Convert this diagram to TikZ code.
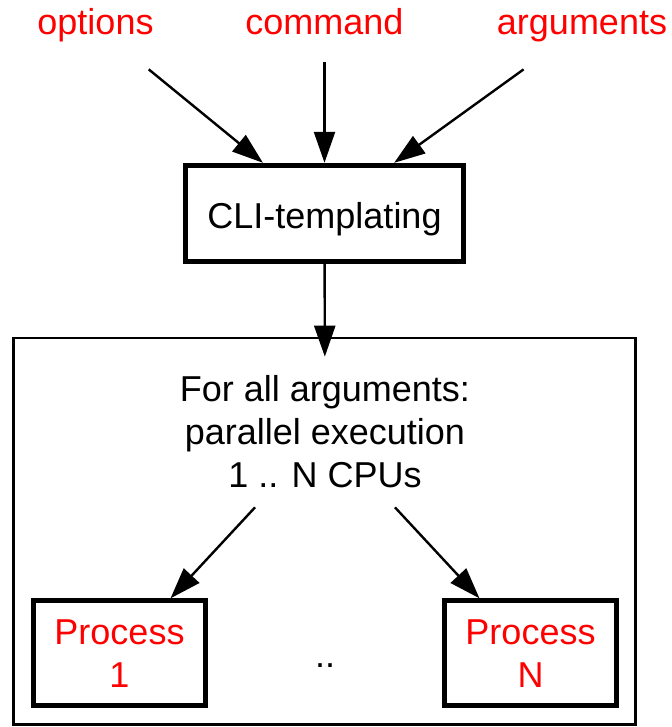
\documentclass[tikz,border=0pt]{standalone}
\usepackage{fontspec}
\setmainfont{Liberation Sans}
\usetikzlibrary{arrows.meta}
\begin{document}
\begin{tikzpicture}[x=1pt,y=-1pt,
  txt/.style={font=\fontsize{36}{43}\selectfont, align=center, inner sep=0pt},
  toplabel/.style={txt, text=red, inner xsep=0pt, inner ysep=26.7pt},
  heavybox/.style={draw, line width=5pt, minimum width=172.6pt, minimum height=105pt},
  arr/.style={-{Triangle[length=31pt,width=21pt]}, line width=2.4pt}]
  \useasboundingbox (0,0) rectangle (671,727);

  % inputs
  \node[toplabel, anchor=base] (opt) at (95.5,35) {options};
  \node[toplabel, anchor=base] (cmd) at (324.5,35) {command};
  \node[toplabel, anchor=base] (arg) at (582,35) {arguments};

  % templating step
  \node[heavybox, txt, minimum width=278pt, minimum height=96pt,
        text height=29.6pt, text depth=0pt] (cli) at (324.5,213.3) {CLI-templating};

  % parallel execution cluster
  \node[draw, line width=2.4pt, minimum width=622pt, minimum height=386.6pt,
        inner sep=0pt] (cluster) at (324.5,531.2) {};
  \node[txt, inner ysep=18.9pt] (par) at (325,432)
    {For all arguments:\\parallel execution\\1 .. N CPUs};
  \node[heavybox, txt, text=red] (p1) at (119.5,653.3) {Process\\1};
  \node[heavybox, txt, text=red] (pN) at (530.5,653.3) {Process\\N};
  \node[txt, anchor=base] (dots) at (325,667) {..};

  % connectors
  \draw[arr] (opt) -- (cli);
  \draw[arr] (cmd) -- (cli);
  \draw[arr] (arg) -- (cli);
  \draw[arr] (cli) -- (par);
  \draw[arr] (par) -- (p1);
  \draw[arr] (par) -- (pN);
\end{tikzpicture}
\end{document}
